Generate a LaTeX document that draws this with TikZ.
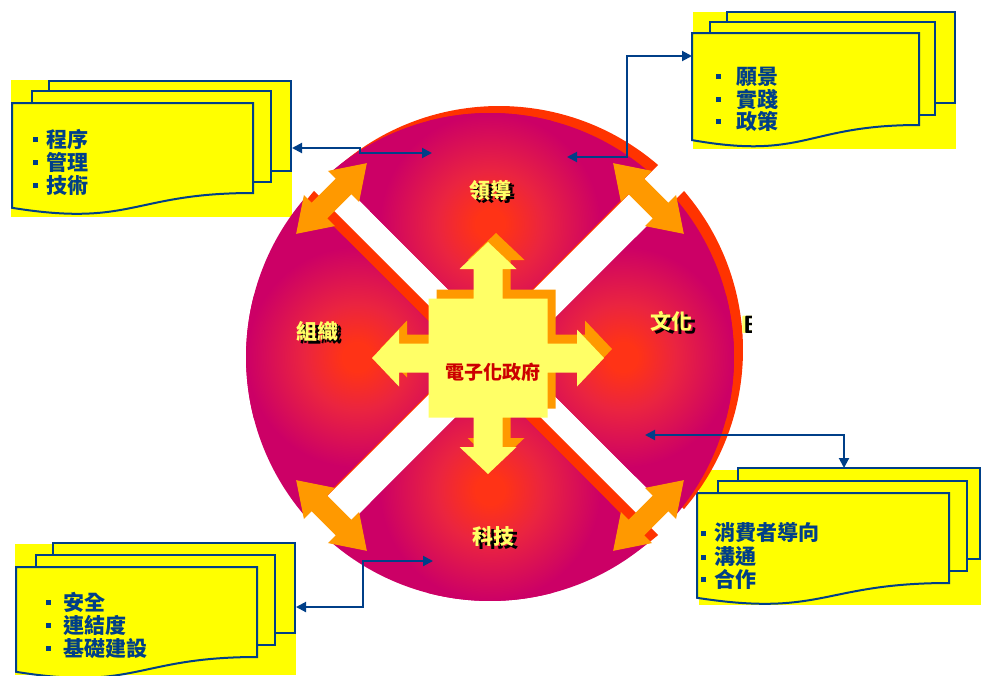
\documentclass[tikz,border=0pt]{standalone}
\usepackage{fontspec}
\newfontfamily\cjk{Noto Sans CJK TC}
\usetikzlibrary{arrows.meta}
\definecolor{qred}{HTML}{FF3316}
\definecolor{qmid}{HTML}{EA2440}
\definecolor{qmag}{HTML}{CC0066}
\definecolor{qshadow}{HTML}{FF3300}
\definecolor{rimorange}{HTML}{FF9900}
\definecolor{crossyel}{HTML}{FFFF66}
\definecolor{boxyel}{HTML}{FFFF00}
\definecolor{navy}{HTML}{003F88}
\definecolor{ctrred}{HTML}{CC0000}
\pgfdeclareradialshading{qshade}{\pgfpointorigin}{color(0bp)=(qred); color(3bp)=(qred); color(11bp)=(qmid); color(23bp)=(qmag); color(50bp)=(qmag)}
\tikzset{
  boxline/.style={draw=navy, line width=2pt, fill=boxyel},
  boxtext/.style={anchor=base west, inner sep=0pt, font=\cjk\bfseries\fontsize{21}{21}\selectfont, text=navy},
  qlab/.style={inner sep=0pt, font=\cjk\bfseries\fontsize{21}{21}\selectfont, text=crossyel},
  qlabsh/.style={qlab, text=black},
  conn/.style={draw=navy, line width=2pt, {Triangle[length=10pt,width=10pt]}-{Triangle[length=10pt,width=10pt]}},
  efrag/.style={anchor=base west, inner sep=0pt, font=\sffamily\bfseries\fontsize{25}{25}\selectfont},
}
\newcommand\bul[1][8pt]{\textcolor{navy}{\rule[5pt]{5pt}{5pt}}\hspace{#1}}
\newcommand\quadpath[1]{(#1:26pt) -- (#1-40.68:244pt) arc[start angle=#1-40.68, end angle=#1+40.68, radius=244pt] -- cycle}
\newcommand\rimarrow{(50pt,0pt) -- (17pt,22pt) -- (17pt,11pt) -- (-17pt,11pt) -- (-17pt,22pt) -- (-50pt,0pt) -- (-17pt,-22pt) -- (-17pt,-11pt) -- (17pt,-11pt) -- (17pt,-22pt) -- cycle}
\newcommand\crosspath{(0,-116) -- (28.5,-89) -- (14.5,-89) -- (14.5,-59.5) -- (59.5,-59.5) -- (59.5,-14.5) -- (89,-14.5) -- (89,-28.5) -- (116,0) -- (89,28.5) -- (89,14.5) -- (59.5,14.5) -- (59.5,59.5) -- (14.5,59.5) -- (14.5,89) -- (28.5,89) -- (0,116) -- (-28.5,89) -- (-14.5,89) -- (-14.5,59.5) -- (-59.5,59.5) -- (-59.5,14.5) -- (-89,14.5) -- (-89,28.5) -- (-116,0) -- (-89,-28.5) -- (-89,-14.5) -- (-59.5,-14.5) -- (-59.5,-59.5) -- (-14.5,-59.5) -- (-14.5,-89) -- (-28.5,-89) -- cycle}
\begin{document}
\begin{tikzpicture}[x=1pt,y=-1pt]
\useasboundingbox (0,0) rectangle (981,675);
\fill[white] (0,0) rectangle (981,675);

% ---- Box 1 (top left)
\fill[boxyel] (11,80) rectangle (292,217);
\draw[boxline] (49,81) rectangle (291,171);
\draw[boxline] (32,91) rectangle (271,182);
\draw[boxline] (12,103) -- (253,103) -- (253,193) .. controls (132.5,193) and (132.5,227.3) .. (12,207.8) -- cycle;
\node[boxtext] (t1a) at (33,147) {\bul 程序};
\node[boxtext] (t1b) at (33,170) {\bul 管理};
\node[boxtext] (t1c) at (33,193) {\bul 技術};

% ---- Box 2 (top right)
\fill[boxyel] (693,12) rectangle (956,149);
\draw[boxline] (727,12) rectangle (955,103);
\draw[boxline] (710,22) rectangle (935,115);
\draw[boxline] (692,33) -- (919,33) -- (919,125) .. controls (805.5,125) and (805.5,160.1) .. (692,140.1) -- cycle;
\node[boxtext] (t2a) at (716,84) {\bul[10pt] 願景};
\node[boxtext] (t2b) at (716,107) {\bul[10pt] 實踐};
\node[boxtext] (t2c) at (716,129) {\bul[10pt] 政策};

% ---- Box 3 (bottom left)
\fill[boxyel] (15,544) rectangle (296,675);
\draw[boxline] (53,543) rectangle (295,633);
\draw[boxline] (36,555) rectangle (275,645);
\draw[boxline] (16,567) -- (257,567) -- (257,657) .. controls (136.5,657) and (136.5,691.3) .. (16,671.8) -- cycle;
\node[boxtext] (t3a) at (46,610) {\bul[7pt] 安全};
\node[boxtext] (t3b) at (46,633) {\bul[7pt] 連結度};
\node[boxtext] (t3c) at (46,656) {\bul[7pt] 基礎建設};

% ---- Box 4 (bottom right)
\fill[boxyel] (699,470) rectangle (981,605);
\draw[boxline] (738,468) rectangle (980,559);
\draw[boxline] (718,481) rectangle (967,571);
\draw[boxline] (697,493) -- (949,493) -- (949,583) .. controls (823,583) and (823,617.3) .. (697,597.8) -- cycle;
\node[boxtext] (t4a) at (701,540.5) {\bul 消費者導向};
\node[boxtext] (t4b) at (701,564.5) {\bul 溝通};
\node[boxtext] (t4c) at (701,587) {\bul 合作};

% ---- quadrant shadows
\begin{scope}[shift={(499,350)}]
\foreach \a in {0,90,180,270} \fill[qshadow] \quadpath{\a};
\end{scope}

% ---- quadrants
\begin{scope}[shift={(490,357)}]
\foreach \a in {0,90,180,270} {
  \begin{scope}
    \clip \quadpath{\a};
    \fill[qmag] (-250pt,-250pt) rectangle (250pt,250pt);
    \shade[shading=qshade] (\a:133pt) circle[radius=120pt];
  \end{scope}
}
% rim double arrows
\foreach \x/\y/\r in {-158.5/-158.5/45, 158.5/-158.5/-45, -158.5/158.5/-45, 158.5/158.5/45}
  \fill[rimorange, shift={(\x,\y)}, rotate=\r] \rimarrow;
\end{scope}

% ---- central cross
\begin{scope}[shift={(496,349)}]
\fill[rimorange] \crosspath;
\end{scope}
\begin{scope}[shift={(488,358)}]
\fill[crossyel] \crosspath;
\end{scope}
\node[inner sep=0pt, font=\cjk\bfseries\fontsize{19}{19}\selectfont, text=ctrred] (egov) at (493,372) {電子化政府};

% ---- quadrant labels
\node[qlabsh] (lead-s) at (494,193) {領導};
\node[qlab] (lead) at (490,190) {領導};
\node[qlabsh] (org-s) at (321,334) {組織};
\node[qlab] (org) at (317,331) {組織};
\node[qlabsh] (cult-s) at (675,324) {文化};
\node[qlab] (cult) at (671,321) {文化};
\node[qlabsh] (tech-s) at (497,540) {科技};
\node[qlab] (tech) at (493,537) {科技};

% ---- fragment at right of the circle
\begin{scope}
\clip (742,310) rectangle (751,336);
\node[efrag, text=crossyel] (e1) at (740,333) {E};
\node[efrag, text=black] (e2) at (743,333) {E};
\end{scope}

% ---- connectors
\coordinate (c1a) at (292,148);
\coordinate (c1b) at (432,153);
\draw[conn] (c1a) -- ++(68,0) |- (c1b);
\coordinate (c2a) at (567,157);
\coordinate (c2b) at (692,56);
\draw[conn] (c2a) -- ++(60,0) |- (c2b);
\coordinate (c3a) at (433,561);
\coordinate (c3b) at (296,607);
\draw[conn] (c3a) -- ++(-70,0) |- (c3b);
\coordinate (c4a) at (645,435);
\coordinate (c4b) at (844,468);
\draw[conn] (c4a) -| (c4b);
\end{tikzpicture}
\end{document}
